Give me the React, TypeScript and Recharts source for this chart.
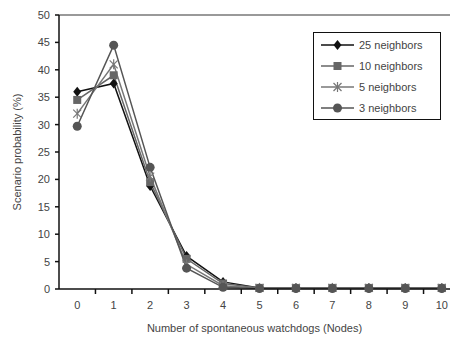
import React from 'react';
import {
  LineChart,
  Line,
  XAxis,
  YAxis,
  ReferenceLine,
} from 'recharts';

const nodes = [0, 1, 2, 3, 4, 5, 6, 7, 8, 9, 10];
const n25 = [36.0, 37.5, 18.8, 6.0, 1.3, 0.2, 0.2, 0.2, 0.2, 0.2, 0.2];
const n10 = [34.5, 39.0, 19.5, 5.5, 1.0, 0.2, 0.2, 0.2, 0.2, 0.2, 0.2];
const n5 = [32.0, 41.0, 20.5, 4.5, 0.6, 0.2, 0.2, 0.2, 0.2, 0.2, 0.2];
const n3 = [29.7, 44.5, 22.2, 3.8, 0.3, 0.1, 0.1, 0.1, 0.1, 0.1, 0.1];

const yTicks = [0, 5, 10, 15, 20, 25, 30, 35, 40, 45, 50];
// labels on whole numbers, tick marks between categories
const xTicks = [0, 0.5, 1, 1.5, 2, 2.5, 3, 3.5, 4, 4.5, 5, 5.5, 6, 6.5, 7, 7.5, 8, 8.5, 9, 9.5, 10];

const data = nodes.map((n, i) => ({ n, n25: n25[i], n10: n10[i], n5: n5[i], n3: n3[i] }));

const FONT = '"Liberation Sans", Arial, sans-serif';
const TEXT = '#444';

const series = [
  { key: 'n25', name: '25 neighbors', color: '#111', marker: 'diamond' },
  { key: 'n10', name: '10 neighbors', color: '#666', marker: 'square' },
  { key: 'n5', name: '5 neighbors', color: '#777', marker: 'star' },
  { key: 'n3', name: '3 neighbors', color: '#555', marker: 'circle' },
];

const Marker = ({ cx, cy, kind, color }: any) => {
  if (cx == null || cy == null) return null;
  if (kind === 'diamond')
    return <polygon points={`${cx},${cy - 5} ${cx + 4},${cy} ${cx},${cy + 5} ${cx - 4},${cy}`} fill="#111" />;
  if (kind === 'square')
    return <rect x={cx - 4} y={cy - 4} width={8} height={8} fill="#666" />;
  if (kind === 'star')
    return (
      <g stroke={color} strokeWidth={1.2}>
        <line x1={cx - 4} y1={cy - 4} x2={cx + 4} y2={cy + 4} />
        <line x1={cx - 4} y1={cy + 4} x2={cx + 4} y2={cy - 4} />
        <line x1={cx} y1={cy - 5} x2={cx} y2={cy + 5} />
      </g>
    );
  return <circle cx={cx} cy={cy} r={4.5} fill="#555" />;
};

const XTick = ({ x, y, payload }: any) => {
  const v = payload.value;
  if (v % 1 !== 0) {
    return <line x1={x} y1={y - 5} x2={x} y2={y} stroke="#111" strokeWidth={1.5} />;
  }
  return (
    <text x={x} y={y + 15} textAnchor="middle" fill={TEXT} fontSize={11} fontFamily={FONT}>
      {v}
    </text>
  );
};

const LegendBox = () => (
  <div
    style={{
      position: 'absolute',
      left: 313,
      top: 32,
      border: '1.5px solid #111',
      background: '#fff',
      padding: '1px 0 1px 6px',
      fontFamily: FONT,
      fontSize: 11,
      color: TEXT,
      boxSizing: 'border-box',
      width: 128,
    }}
  >
    {series.map((s) => (
      <div key={s.key} style={{ display: 'flex', alignItems: 'center', height: 21 }}>
        <svg width={36} height={12} style={{ marginRight: 3 }}>
          <line x1={1} y1={6} x2={34} y2={6} stroke={s.color} strokeWidth={1.5} />
          <Marker cx={17.5} cy={6} kind={s.marker} color={s.color} />
        </svg>
        <span>{s.name}</span>
      </div>
    ))}
  </div>
);

export default function App() {
  return (
    <div style={{ position: 'fixed', left: 0, top: 0, width: 450, height: 342, overflow: 'hidden', background: '#fff' }}>
      <LineChart width={460} height={342} data={data} margin={{ top: 15, right: 0, bottom: 0, left: 0 }}>
        <XAxis
          dataKey="n"
          type="number"
          domain={[-0.5, 10.5]}
          ticks={xTicks}
          interval={0}
          tick={<XTick />}
          tickLine={false}
          tickSize={5}
          tickMargin={0}
          axisLine={{ stroke: '#111', strokeWidth: 1.5 }}
          height={53}
          label={{
            value: 'Number of spontaneous watchdogs (Nodes)',
            position: 'insideBottom',
            offset: 10,
            fill: TEXT,
            fontSize: 11,
            fontFamily: FONT,
            dx: -5,
          }}
        />
        <YAxis
          domain={[0, 50]}
          ticks={yTicks}
          interval={0}
          width={59}
          tickSize={4}
          tickMargin={5}
          tick={{ fill: TEXT, fontSize: 11, fontFamily: FONT }}
          tickLine={{ stroke: '#111', strokeWidth: 1.5 }}
          axisLine={{ stroke: '#111', strokeWidth: 1.5 }}
          label={{
            value: 'Scenario probability (%)',
            angle: -90,
            position: 'insideLeft',
            offset: 17,
            fill: TEXT,
            fontSize: 11,
            fontFamily: FONT,
            style: { textAnchor: 'middle' },
          }}
        />
        <ReferenceLine y={50} stroke="#999" strokeWidth={2} />
        {series.map((s) => (
          <Line
            key={s.key}
            dataKey={s.key}
            name={s.name}
            stroke={s.color}
            strokeWidth={1.5}
            dot={(p: any) => <Marker key={`${s.key}-${p.index}`} cx={p.cx} cy={p.cy} kind={s.marker} color={s.color} />}
            activeDot={false}
            isAnimationActive={false}
          />
        ))}
      </LineChart>
      <LegendBox />
    </div>
  );
}
